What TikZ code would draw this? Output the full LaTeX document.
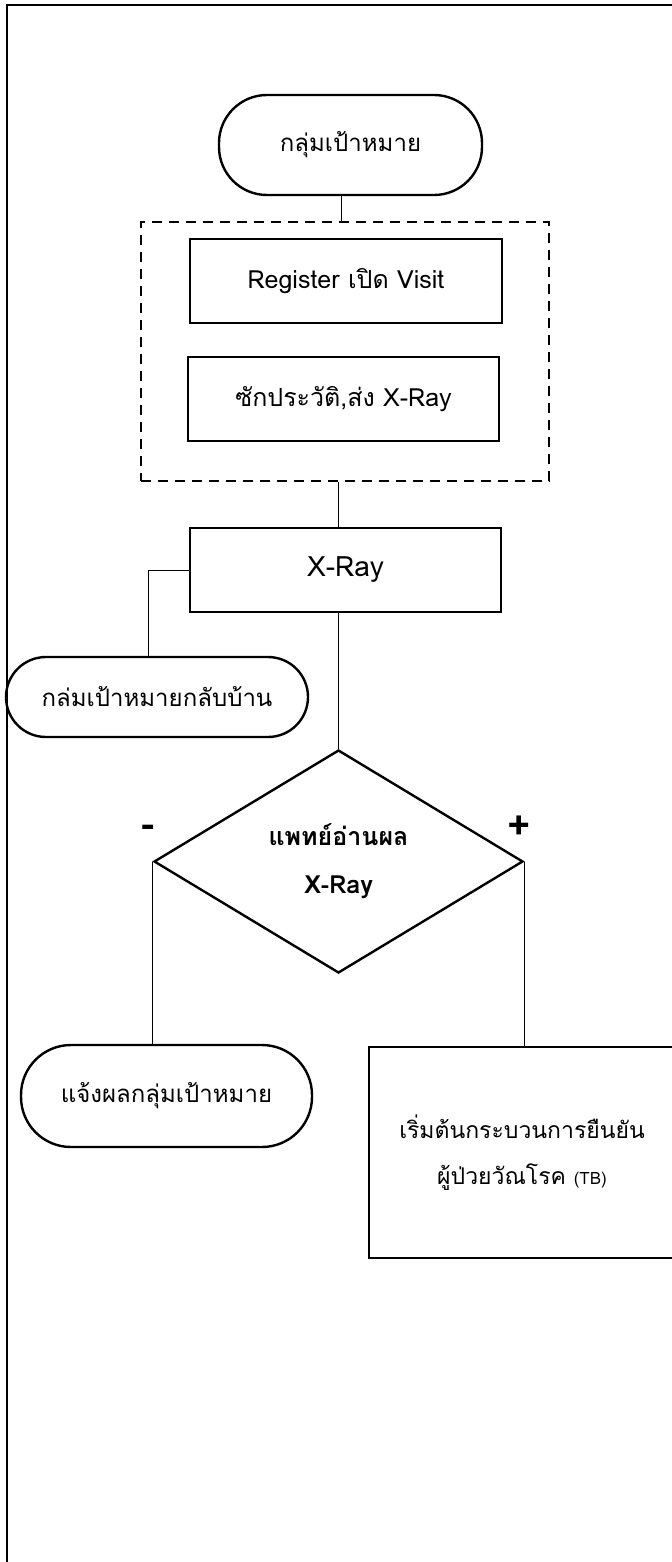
\documentclass[tikz,border=0pt]{standalone}
\usepackage{fontspec}
\setmainfont[Script=Thai]{Loma}
\usetikzlibrary{shapes.geometric, calc}

\tikzset{
	terminal/.style={draw, line width=1.2pt, rectangle, rounded corners=24pt, inner sep=0pt, font=\fontsize{12}{14}\selectfont},
	procbox/.style={draw, line width=1.2pt, rectangle, inner sep=0pt, font=\fontsize{12.5}{15}\selectfont},
	decision/.style={draw, line width=1.2pt, diamond, inner sep=0pt, align=center, font=\bfseries\fontsize{12.5}{24}\selectfont},
	sign/.style={font=\bfseries\fontsize{20}{22}\selectfont, inner sep=0pt},
	link/.style={line width=0.5pt},
}

\begin{document}
\begin{tikzpicture}[x=0.5pt, y=-0.5pt]
	\useasboundingbox (0,0) rectangle (672,1562);
	% page frame
	\draw [line width=1.3pt] (7,1700) -- (7,5) -- (760,5);

	\node [terminal, minimum width=131.5pt, minimum height=50pt] (start) at (350.5,145) {กลุ่มเป้าหมาย};

	% group of the first two steps
	\node [draw, line width=1.2pt, dash pattern=on 5pt off 3.5pt, minimum width=204pt, minimum height=129.5pt, inner sep=0pt] (grp) at (345,351.5) {};
	\node [procbox, minimum width=156pt, minimum height=42pt] (reg) at (346,281) {Register เปิด Visit};
	\node [procbox, minimum width=155.5pt, minimum height=42pt] (hist) at (343.5,399) {ซักประวัติ,ส่ง X-Ray};

	\node [procbox, minimum width=155.5pt, minimum height=42pt, font=\fontsize{14}{16}\selectfont] (xray) at (345.5,570) {X-Ray};
	\node [terminal, rounded corners=20pt, minimum width=151pt, minimum height=40pt] (home) at (157,697) {กล่มเป้าหมายกลับบ้าน};

	\node [decision, minimum width=184.5pt, minimum height=111.5pt] (dec) at (338.5,861.5) {แพทย์อ่านผล\\X-Ray};
	\node [sign] (minus) at (148,831) {-};
	\node [sign] (plus) at (519,828) {+};

	\node [terminal, rounded corners=25pt, minimum width=145.5pt, minimum height=51pt] (notify) at (166.5,1096) {แจ้งผลกลุ่มเป้าหมาย};
	\node [procbox, minimum width=153pt, minimum height=105.5pt, align=center, font=\fontsize{11.5}{23}\selectfont] (tb) at (522,1152.5) {เริ่มต้นกระบวนการยืนยัน\\ผู้ป่วยวัณโรค {\fontsize{8.5}{10}\selectfont (TB)}};

	\draw [link] ([xshift=-4.5pt]start.south) -- ([xshift=-4.5pt]start.south |- grp.north);
	\draw [link] (grp.south -| dec.north) -- (xray.north -| dec.north);
	\draw [link] (xray.west) -| ([xshift=-4.5pt]home.north);
	\draw [link] (xray.south -| dec.north) -- (dec.north);
	\draw [link] (dec.west) -- (dec.west |- notify.north);
	\draw [link] (dec.east) -- (dec.east |- tb.north);

\end{tikzpicture}
\end{document}
